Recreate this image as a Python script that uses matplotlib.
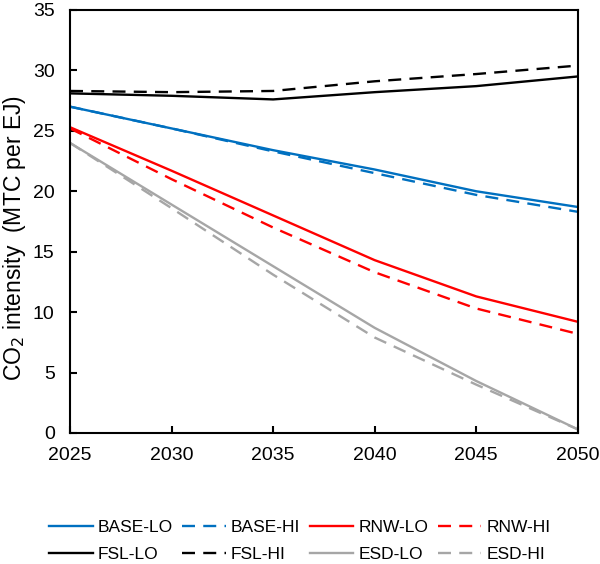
import matplotlib
matplotlib.use("Agg")
import matplotlib.pyplot as plt

plt.rcParams['font.family'] = ['Liberation Sans', 'DejaVu Sans']

years = [2025, 2030, 2035, 2040, 2045, 2050]

base_lo = [27.0, 25.2, 23.4, 21.8, 20.0, 18.7]
base_hi = [27.0, 25.2, 23.3, 21.5, 19.7, 18.3]
rnw_lo = [25.3, 21.7, 18.0, 14.3, 11.3, 9.2]
rnw_hi = [25.2, 21.0, 17.0, 13.3, 10.3, 8.2]
fsl_lo = [28.1, 27.9, 27.6, 28.2, 28.7, 29.5]
fsl_hi = [28.3, 28.2, 28.3, 29.1, 29.7, 30.4]
esd_lo = [24.0, 18.9, 13.8, 8.7, 4.3, 0.3]
esd_hi = [24.0, 18.6, 13.1, 7.9, 4.0, 0.3]

blue = '#0070C0'
red = '#FF0000'
grey = '#A6A6A6'

fig = plt.figure(figsize=(6, 5.64), dpi=100)
ax = fig.add_axes([0.1167, 0.2323, 0.8463, 0.75])

lw = 1.7
dash = (0, (5.5, 3.5))
h1, = ax.plot(years, base_lo, color=blue, lw=lw, label='BASE-LO')
h2, = ax.plot(years, base_hi, color=blue, lw=lw, ls=dash, label='BASE-HI')
h3, = ax.plot(years, rnw_lo, color=red, lw=lw, label='RNW-LO')
h4, = ax.plot(years, rnw_hi, color=red, lw=lw, ls=dash, label='RNW-HI')
h5, = ax.plot(years, fsl_lo, color='black', lw=lw, label='FSL-LO')
h6, = ax.plot(years, fsl_hi, color='black', lw=lw, ls=dash, label='FSL-HI')
h7, = ax.plot(years, esd_lo, color=grey, lw=lw, label='ESD-LO')
h8, = ax.plot(years, esd_hi, color=grey, lw=lw, ls=dash, label='ESD-HI')

ax.set_xlim(2025, 2050)
ax.set_ylim(0, 35)
ax.set_xticks(range(2025, 2051, 5))
ax.set_yticks(range(0, 36, 5))
ax.tick_params(direction='in', length=5, width=1.5, labelsize=14)
ax.tick_params(axis='x', pad=10)
ax.tick_params(axis='y', pad=11)
for s in ax.spines.values():
    s.set_linewidth(1.5)
ax.set_ylabel('CO$_2$ intensity  (MTC per EJ)', fontsize=16.5)
ax.yaxis.set_label_coords(-0.083, 0.46)

# legend fills column by column, so interleave to get rows of BASE/RNW and FSL/ESD
fig.legend(handles=[h1, h5, h2, h6, h3, h7, h4, h8], ncol=4, frameon=False,
           loc='upper center', bbox_to_anchor=(0.5, 1 - 504 / 564), fontsize=12.5,
           handlelength=2.5, handletextpad=0.3, columnspacing=0.55,
           labelspacing=0.7)

fig.savefig('out.png', dpi=100)
